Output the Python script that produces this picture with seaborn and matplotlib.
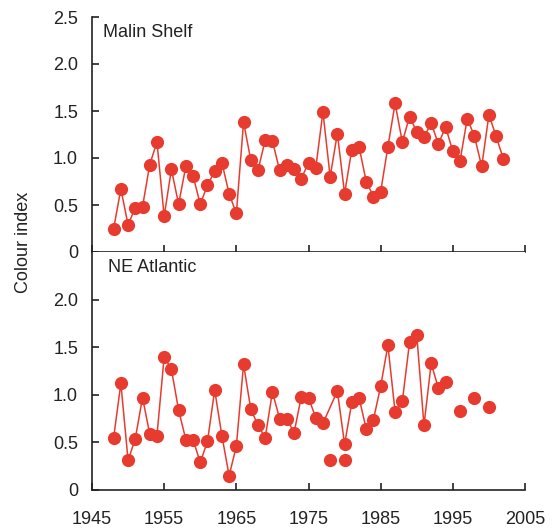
import numpy as np
import pandas as pd
import matplotlib
matplotlib.use("Agg")
import matplotlib.pyplot as plt
import seaborn as sns

# Malin Shelf colour index, 1948-2002
malin_years = list(range(1948, 2003))
malin_values = [0.25, 0.67, 0.29, 0.47, 0.48, 0.93, 1.17, 0.38, 0.88, 0.51,
                0.91, 0.81, 0.51, 0.71, 0.86, 0.95, 0.62, 0.41, 1.38, 0.98,
                0.87, 1.19, 1.18, 0.87, 0.93, 0.88, 0.78, 0.95, 0.89, 1.49,
                0.80, 1.26, 0.62, 1.09, 1.12, 0.75, 0.59, 0.64, 1.12, 1.58,
                1.17, 1.44, 1.28, 1.22, 1.37, 1.15, 1.33, 1.07, 0.97, 1.42,
                1.23, 0.91, 1.46, 1.23, 0.99]

# NE Atlantic colour index (connected series)
atl_years = list(range(1948, 1978)) + list(range(1979, 1995))
atl_values = [0.55, 1.12, 0.31, 0.54, 0.97, 0.59, 0.57, 1.40, 1.27, 0.84,
              0.53, 0.53, 0.29, 0.51, 1.05, 0.57, 0.15, 0.46, 1.32, 0.85,
              0.68, 0.55, 1.03, 0.75, 0.75, 0.60, 0.98, 0.97, 0.76, 0.70,
              1.04, 0.48, 0.92, 0.97, 0.64, 0.74, 1.09, 1.52, 0.82, 0.93,
              1.55, 1.63, 0.68, 1.33, 1.07, 1.13]

# NE Atlantic unconnected points
atl_extra_years = [1978, 1980, 1996, 1998, 2000]
atl_extra_values = [0.31, 0.31, 0.83, 0.97, 0.87]

xticks = [1945, 1955, 1965, 1975, 1985, 1995, 2005]

sns.set_style("ticks")
plt.rcParams["font.family"] = ["Liberation Sans", "DejaVu Sans"]
plt.rcParams["font.size"] = 13

red = "#e83b30"
ms = 9.5

fig = plt.figure(figsize=(5.52, 5.28), dpi=100)
W, H = 552, 528
left, right = 92, 525
ax_top = fig.add_axes([left / W, 1 - 252 / H, (right - left) / W, 235 / H])
ax_bot = fig.add_axes([left / W, 1 - 490 / H, (right - left) / W, 238 / H])

malin = pd.DataFrame({"year": malin_years, "value": malin_values})
atl = pd.DataFrame({"year": atl_years, "value": atl_values})
atl_extra = pd.DataFrame({"year": atl_extra_years, "value": atl_extra_values})

sns.lineplot(data=malin, x="year", y="value", ax=ax_top, color=red,
             linewidth=1.1, marker="o", markersize=ms, markeredgewidth=0)
sns.lineplot(data=atl, x="year", y="value", ax=ax_bot, color=red,
             linewidth=1.1, marker="o", markersize=ms, markeredgewidth=0)
sns.scatterplot(data=atl_extra, x="year", y="value", ax=ax_bot, color=red,
                s=ms ** 2, linewidth=0)

for ax in (ax_top, ax_bot):
    ax.set_xlim(1945, 2005)
    ax.set_ylim(0, 2.5)
    ax.set_xticks(xticks)
    ax.set_xlabel("")
    ax.set_ylabel("")
    sns.despine(ax=ax)
    for s in ("left", "bottom"):
        ax.spines[s].set_linewidth(1.2)
        ax.spines[s].set_color("#222222")
    ax.tick_params(direction="in", length=5, width=1.2, color="#222222",
                   labelsize=13, labelcolor="#222222")
    ax.tick_params(axis="y", pad=10)
    ax.tick_params(axis="x", pad=15)

ax_top.set_yticks([0, 0.5, 1.0, 1.5, 2.0, 2.5])
ax_top.set_yticklabels(["0", "0.5", "1.0", "1.5", "2.0", "2.5"])
ax_top.tick_params(axis="x", labelbottom=False)
ax_bot.set_yticks([0, 0.5, 1.0, 1.5, 2.0])
ax_bot.set_yticklabels(["0", "0.5", "1.0", "1.5", "2.0"])
ax_bot.set_xticklabels([str(t) for t in xticks])

ax_top.text(103 / W, 1 - 37 / H, "Malin Shelf", transform=fig.transFigure,
            fontsize=13, color="#222222", va="baseline")
ax_bot.text(108 / W, 1 - 272 / H, "NE Atlantic", transform=fig.transFigure,
            fontsize=13, color="#222222", va="baseline")

fig.text(23.5 / W, 1 - 242 / H, "Colour index", rotation=90, ha="center",
         va="center", fontsize=13, color="#222222")

fig.savefig("out.png", dpi=100)
